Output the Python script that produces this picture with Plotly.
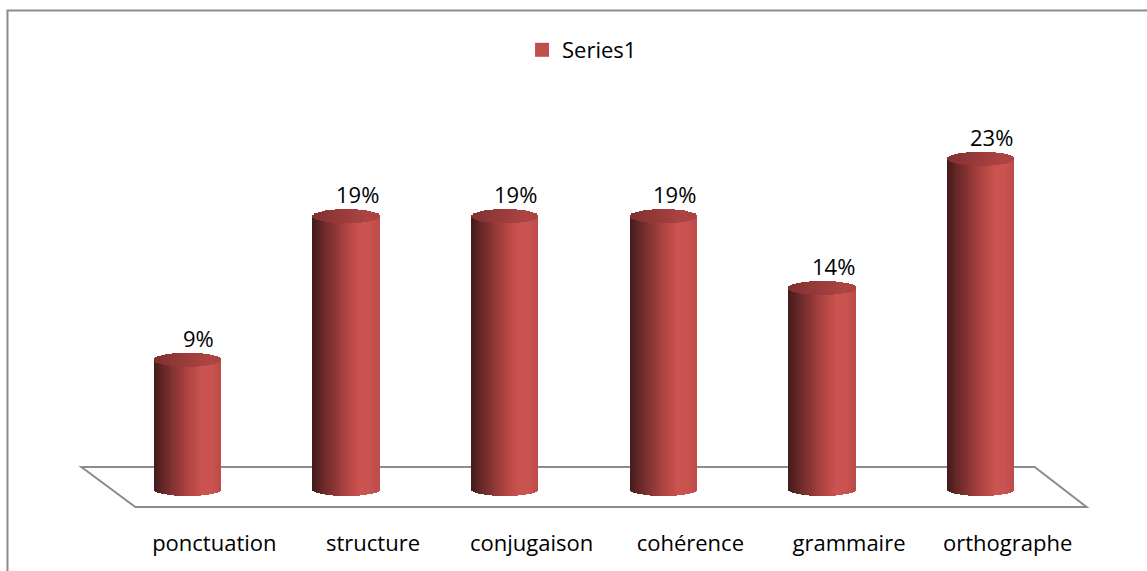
import plotly.graph_objects as go
import numpy as np

categories = ["ponctuation", "structure", "conjugaison", "cohérence", "grammaire", "orthographe"]
values = [9, 19, 19, 19, 14, 23]
value_labels = ["9%", "19%", "19%", "19%", "14%", "23%"]
series_name = "Series1"

W, H = 1147, 571
PL, PR = 107.6, 1060.4          # plot area left/right in px
PT, PB = 60, 520                # plot area top/bottom in px
Y0PX, PXPER = 489.0, 14.36      # pixel of zero, px per unit
ymin = -(PB - Y0PX) / PXPER
ymax = (Y0PX - PT) / PXPER

bw = 0.425                      # bar width (category units)
e = 7.0 / PXPER                 # ellipse half-height in y units
N = 36

def px2paper(x, y):
    return ((x - PL) / (PR - PL), (PB - y) / (PB - PT))

def lerp_color(stops, t):
    for (t0, c0), (t1, c1) in zip(stops[:-1], stops[1:]):
        if t0 <= t <= t1:
            f = (t - t0) / (t1 - t0) if t1 > t0 else 0
            c = [round(a + (b - a) * f) for a, b in zip(c0, c1)]
            return "rgb(%d,%d,%d)" % tuple(c)
    return "rgb(%d,%d,%d)" % stops[-1][1]

body_stops = [(0.0, (66, 26, 26)), (0.12, (96, 37, 37)), (0.35, (145, 56, 55)),
              (0.55, (182, 71, 69)), (0.72, (203, 84, 81)), (0.86, (201, 83, 80)),
              (1.0, (188, 75, 73))]
top_stops = [(0.0, (128, 48, 48)), (0.4, (150, 58, 57)), (0.8, (172, 68, 66)), (1.0, (170, 67, 65))]

fig = go.Figure()
sw = bw / N
for i in range(N):
    uc = -1 + (2 * i + 1) / N
    t = (i + 0.5) / N
    half = e * np.sqrt(max(0.0, 1 - uc * uc))
    width = sw * (1.35 if i < N - 1 else 1.0)
    off = -bw / 2 + i * sw
    base = -half
    fig.add_trace(go.Bar(
        x=categories, y=[v - base for v in values], base=base,
        offset=off, width=width, marker=dict(color=lerp_color(body_stops, t), line=dict(width=0)),
        showlegend=False, hoverinfo="skip"))
for i in range(N):
    uc = -1 + (2 * i + 1) / N
    t = (i + 0.5) / N
    half = e * np.sqrt(max(0.0, 1 - uc * uc))
    width = sw * (1.35 if i < N - 1 else 1.0)
    off = -bw / 2 + i * sw
    fig.add_trace(go.Bar(
        x=categories, y=[2 * half] * len(values), base=[v - half for v in values],
        offset=off, width=width, marker=dict(color=lerp_color(top_stops, t), line=dict(width=0)),
        showlegend=False, hoverinfo="skip"))

# legend entry
fig.add_trace(go.Scatter(x=[None], y=[None], name=series_name, mode="markers",
                         marker=dict(color="#c0504d", symbol="square", size=14, line=dict(width=0)),
                         showlegend=True, hoverinfo="skip"))

for i, (v, lab) in enumerate(zip(values, value_labels)):
    fig.add_annotation(x=i, y=v + e, text=lab, showarrow=False, xref="x", yref="y",
                       yanchor="bottom", xanchor="center", xshift=11, yshift=-2,
                       font=dict(family="Open Sans", size=22, color="#000000"))

# floor
pts = [px2paper(81, 467), px2paper(1035, 467), px2paper(1087, 507), px2paper(135, 507)]
path = "M %f %f L %f %f L %f %f L %f %f Z" % tuple(c for p in pts for c in p)
fig.add_shape(type="path", path=path, xref="paper", yref="paper", layer="below",
              line=dict(color="#8c8c8c", width=2), fillcolor="white")

# outer border
b0 = px2paper(7, 10.5)
b1 = px2paper(1152, 576)
fig.add_shape(type="rect", xref="paper", yref="paper", x0=b0[0], y0=b1[1], x1=b1[0], y1=b0[1],
              line=dict(color="#8c8c8c", width=2), fillcolor="rgba(0,0,0,0)", layer="below")

lx, ly = px2paper(522, 50)
fig.update_layout(
    width=W, height=H, barmode="overlay", bargap=0,
    margin=dict(l=PL, r=W - PR, t=PT, b=H - PB, pad=0),
    paper_bgcolor="white", plot_bgcolor="rgba(0,0,0,0)",
    showlegend=True,
    legend=dict(x=lx, y=ly, xanchor="left", yanchor="middle", orientation="h",
                font=dict(family="Open Sans", size=22, color="#000000"),
                bgcolor="rgba(0,0,0,0)"),
    xaxis=dict(type="category", range=[-0.5, 5.5], showgrid=False, zeroline=False,
               showline=False, ticks="", ticklabelstandoff=8, ticklabelshift=27,
               tickfont=dict(family="Open Sans", size=22, color="#000000")),
    yaxis=dict(range=[ymin, ymax], showgrid=False, zeroline=False, showline=False,
               showticklabels=False, ticks=""),
)

fig.write_html("out.html")
